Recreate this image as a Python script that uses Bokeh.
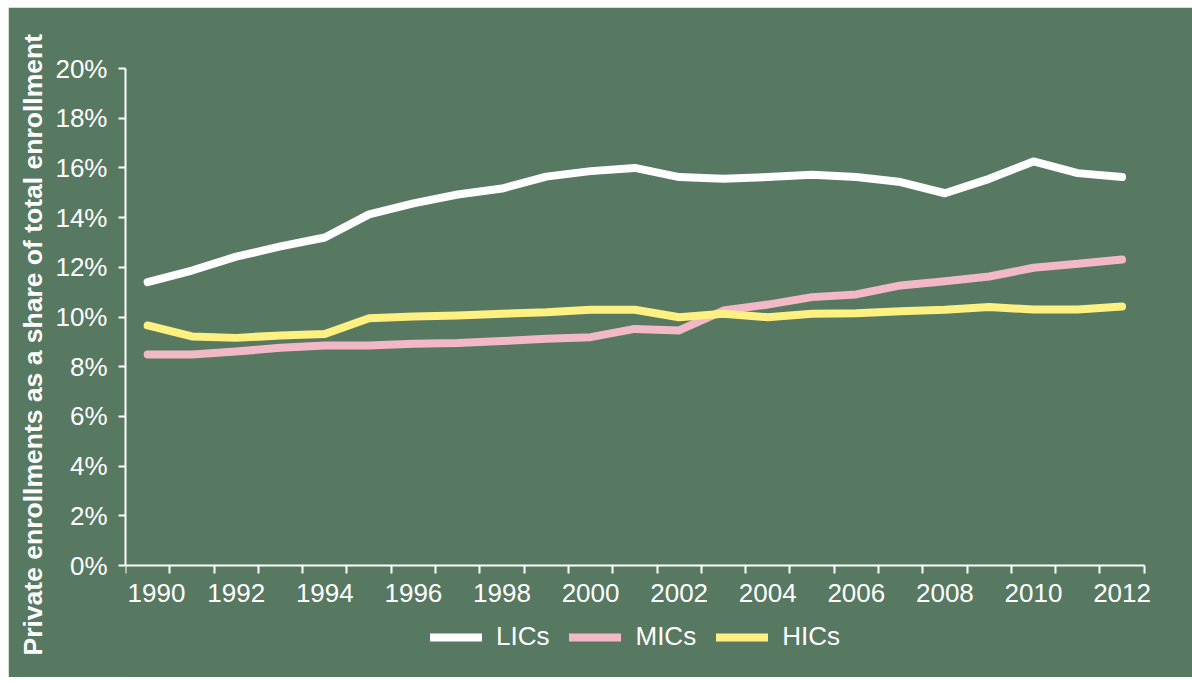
import math
from bokeh.plotting import figure
from bokeh.models import Range1d, FixedTicker, Legend, LegendItem, Title, PrintfTickFormatter
from bokeh.embed import file_html
from bokeh.resources import INLINE

years = list(range(1990, 2013))
lics = [11.40, 11.87, 12.43, 12.84, 13.20, 14.13, 14.57, 14.93, 15.17, 15.65, 15.87, 16.00,
        15.63, 15.56, 15.63, 15.72, 15.63, 15.43, 14.98, 15.56, 16.26, 15.79, 15.63]
mics = [8.49, 8.49, 8.61, 8.76, 8.85, 8.85, 8.92, 8.95, 9.03, 9.12, 9.19, 9.52,
        9.46, 10.26, 10.50, 10.80, 10.91, 11.27, 11.44, 11.63, 11.98, 12.14, 12.31]
hics = [9.66, 9.22, 9.16, 9.26, 9.32, 9.95, 10.02, 10.06, 10.13, 10.19, 10.29, 10.29,
        9.99, 10.13, 9.99, 10.13, 10.15, 10.23, 10.29, 10.40, 10.30, 10.30, 10.42]
series_names = ["LICs", "MICs", "HICs"]
x_tick_years = list(range(1990, 2013, 2))
y_ticks = list(range(0, 21, 2))
y_label = "Private enrollments as a share of total enrollment"

BG = "#577861"
COLORS = ["#FFFFFF", "#F2B8C6", "#FFF082"]
FONT = "Liberation Sans"
LW = 8

# the frame reaches down to the bottom (legend lives inside it) and one slot past 2012
# so that the last year label is not clipped; axes are limited with bounds
p = figure(width=1184, height=670, output_backend="svg", toolbar_location=None,
           x_axis_location="above",
           x_range=Range1d(years[0] - 0.5, years[-1] + 1.5), y_range=Range1d(-4.507, 20),
           min_border_left=117, min_border_right=4, min_border_top=61, min_border_bottom=0)
p.margin = (7, 0, 0, 8)
p.background_fill_color = BG
p.border_fill_color = BG
p.outline_line_color = BG
p.outline_line_width = 2
p.xgrid.grid_line_color = None
p.ygrid.grid_line_color = None

renderers = []
for vals, col in zip([lics, mics, hics], COLORS):
    renderers.append(p.line(years, vals, line_color=col, line_width=LW,
                            line_cap="round", line_join="round"))

# x axis (pinned at y = 0, labels pushed below the line); first label nudged right as in the original
xa = p.xaxis[0]
xa.fixed_location = 0
xa.bounds = (years[0] - 0.5, years[-1] + 0.5)
label_pos = [x_tick_years[0] + 0.2] + x_tick_years[1:]
xa.ticker = FixedTicker(ticks=label_pos, minor_ticks=[y - 0.5 for y in years] + [years[-1] + 0.5])
xa.formatter = PrintfTickFormatter(format="%d")
xa.axis_line_color = "white"
xa.axis_line_width = 2
xa.major_tick_line_color = None
xa.major_tick_out = 0
xa.major_tick_in = 0
xa.minor_tick_line_color = "white"
xa.minor_tick_line_width = 2
xa.minor_tick_out = 0
xa.minor_tick_in = 8
xa.major_label_standoff = -36
xa.major_label_text_color = "white"
xa.major_label_text_font = FONT
xa.major_label_text_font_size = "26px"

# y axis
ya = p.yaxis[0]
ya.bounds = (0, 20)
ya.ticker = FixedTicker(ticks=y_ticks)
ya.formatter = PrintfTickFormatter(format="%d%%")
ya.axis_line_color = "white"
ya.axis_line_width = 2
ya.major_tick_line_color = "white"
ya.major_tick_line_width = 2
ya.major_tick_out = 7
ya.major_tick_in = 0
ya.minor_tick_line_color = None
ya.major_label_standoff = 11
ya.major_label_text_color = "white"
ya.major_label_text_font = FONT
ya.major_label_text_font_size = "26px"

p.add_layout(Title(text=y_label, align="left", offset=22, text_color="white",
                   text_font=FONT, text_font_size="26.5px", text_font_style="bold",
                   standoff=10), "left")

legend = Legend(items=[LegendItem(label=n, renderers=[r]) for n, r in zip(series_names, renderers)],
                orientation="horizontal", location=(301, 21), glyph_width=52, glyph_height=20,
                label_standoff=14, spacing=20, padding=4, margin=0,
                background_fill_alpha=0, border_line_alpha=0,
                label_text_color="white", label_text_font=FONT, label_text_font_size="26px")
p.add_layout(legend, "center")

open("out.html", "w").write(file_html(p, INLINE))
